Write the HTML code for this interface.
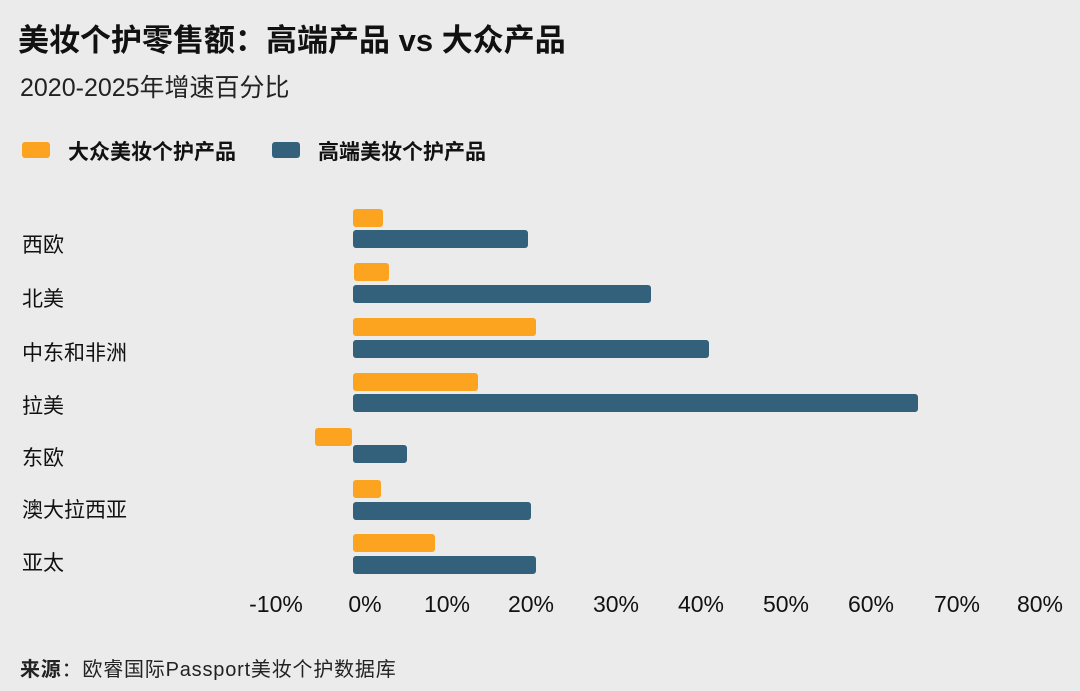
<!DOCTYPE html>
<html><head><meta charset="utf-8"><style>
body{margin:0;width:1080px;height:691px;background:#ebebeb;position:relative;overflow:hidden;font-family:"Liberation Sans","Noto Sans CJK SC",sans-serif;color:#111}
.a{position:absolute;white-space:nowrap}
.o,.b{position:absolute;height:18px;border-radius:3px}
.o{background:#fca320}.b{background:#33617c}
.t{font-size:23px;transform:translateX(-50%);top:591px}
.l{font-size:21px;left:22px}
</style></head><body>
<div class="a" style="left:18px;top:15px;font-size:31px;font-weight:bold">美妆个护零售额：高端产品 vs 大众产品</div>
<div class="a" style="left:20px;top:68px;font-size:25px;color:#222">2020-2025年增速百分比</div>
<div class="a" style="left:22px;top:142px;width:28px;height:16px;background:#fca320;border-radius:3px"></div>
<div class="a" style="left:68px;top:136px;font-size:21px;font-weight:bold">大众美妆个护产品</div>
<div class="a" style="left:272px;top:142px;width:28px;height:16px;background:#33617c;border-radius:3px"></div>
<div class="a" style="left:318px;top:136px;font-size:21px;font-weight:bold">高端美妆个护产品</div>

<div class="a l" style="top:229px">西欧</div>
<div class="a l" style="top:283px">北美</div>
<div class="a l" style="top:337px">中东和非洲</div>
<div class="a l" style="top:390px">拉美</div>
<div class="a l" style="top:442px">东欧</div>
<div class="a l" style="top:494px">澳大拉西亚</div>
<div class="a l" style="top:547px">亚太</div>

<div class="o" style="left:353px;top:209px;width:30px"></div>
<div class="b" style="left:353px;top:230px;width:175px"></div>
<div class="o" style="left:354px;top:263px;width:35px"></div>
<div class="b" style="left:353px;top:285px;width:298px"></div>
<div class="o" style="left:353px;top:318px;width:183px"></div>
<div class="b" style="left:353px;top:340px;width:356px"></div>
<div class="o" style="left:353px;top:373px;width:125px"></div>
<div class="b" style="left:353px;top:394px;width:565px"></div>
<div class="o" style="left:315px;top:428px;width:37px"></div>
<div class="b" style="left:353px;top:445px;width:54px"></div>
<div class="o" style="left:353px;top:480px;width:28px"></div>
<div class="b" style="left:353px;top:502px;width:178px"></div>
<div class="o" style="left:353px;top:534px;width:82px"></div>
<div class="b" style="left:353px;top:556px;width:183px"></div>

<div class="a t" style="left:276px">-10%</div>
<div class="a t" style="left:365px">0%</div>
<div class="a t" style="left:447px">10%</div>
<div class="a t" style="left:531px">20%</div>
<div class="a t" style="left:616px">30%</div>
<div class="a t" style="left:701px">40%</div>
<div class="a t" style="left:786px">50%</div>
<div class="a t" style="left:871px">60%</div>
<div class="a t" style="left:957px">70%</div>
<div class="a t" style="left:1040px">80%</div>
<div class="a" style="left:20px;top:653px;font-size:20px;color:#222;letter-spacing:0.8px"><b>来源</b>：欧睿国际Passport美妆个护数据库</div>
</body></html>
